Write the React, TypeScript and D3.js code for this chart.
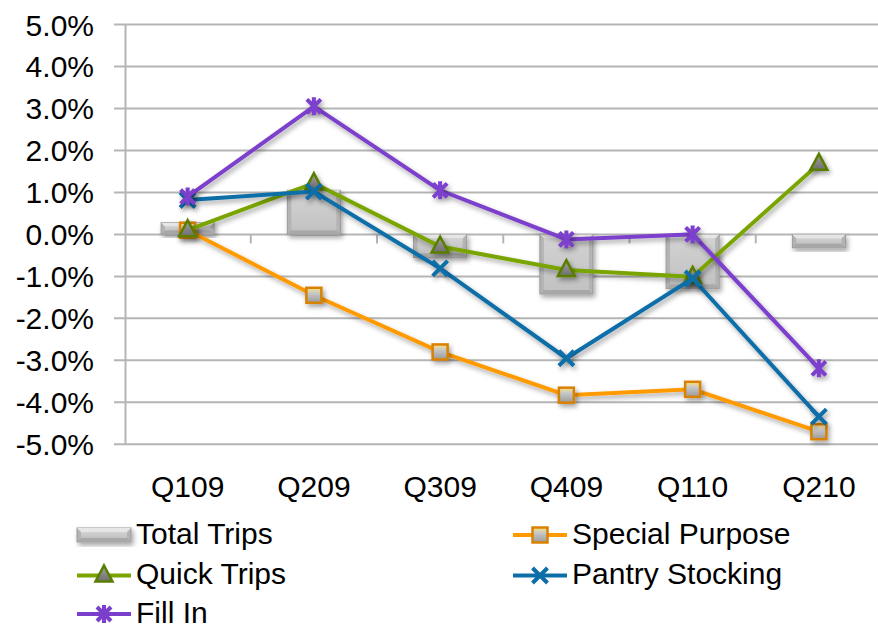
import { useEffect, useRef } from "react";
import * as d3 from "d3";

// Chart data (percent change)
const categories = ["Q109", "Q209", "Q309", "Q409", "Q110", "Q210"];
const totalTrips = [0.28, 1.05, -0.55, -1.42, -1.29, -0.32];
const specialPurpose = [0.1, -1.45, -2.8, -3.83, -3.69, -4.7];
const quickTrips = [0.1, 1.22, -0.29, -0.85, -1.01, 1.68];
const pantryStocking = [0.82, 1.02, -0.81, -2.95, -1.05, -4.34];
const fillIn = [0.9, 3.05, 1.05, -0.12, 0.0, -3.19];
const yTicks = [5, 4, 3, 2, 1, 0, -1, -2, -3, -4, -5];

const WIDTH = 878;
const HEIGHT = 629;
const FONT = "'Liberation Sans', Arial, sans-serif";
const FONT_SIZE = 30;

type Marker = "square" | "triangle" | "cross" | "star";

interface LineSeries {
  name: string;
  values: number[];
  color: string;
  marker: Marker;
}

const lineSeries: LineSeries[] = [
  { name: "Special Purpose", values: specialPurpose, color: "#ff9a00", marker: "square" },
  { name: "Quick Trips", values: quickTrips, color: "#7aa400", marker: "triangle" },
  { name: "Pantry Stocking", values: pantryStocking, color: "#0c6ea8", marker: "cross" },
  { name: "Fill In", values: fillIn, color: "#7b3fcc", marker: "star" },
];

function drawMarker(
  g: d3.Selection<SVGGElement, unknown, null, undefined>,
  type: Marker,
  color: string,
  cx: number,
  cy: number
) {
  const m = g.append("g").attr("transform", `translate(${cx},${cy})`);
  if (type === "square") {
    m.append("rect")
      .attr("x", -7.5).attr("y", -7.5).attr("width", 15).attr("height", 15)
      .attr("fill", "url(#sqFill)")
      .attr("stroke", "#d98100").attr("stroke-width", 2.5);
  } else if (type === "triangle") {
    m.append("path")
      .attr("d", "M0,-10L8.5,6L-8.5,6Z")
      .attr("fill", "url(#triFill)")
      .attr("stroke", "#5a7d00").attr("stroke-width", 2.5)
      .attr("stroke-linejoin", "miter");
  } else if (type === "cross") {
    m.append("path")
      .attr("d", "M-7.5,-7.5L7.5,7.5M-7.5,7.5L7.5,-7.5")
      .attr("stroke", color).attr("stroke-width", 4)
      .attr("fill", "none");
  } else {
    m.append("path")
      .attr("d", "M-7,-7L7,7M-7,7L7,-7M0,-9L0,9")
      .attr("stroke", color).attr("stroke-width", 4)
      .attr("fill", "none");
  }
}

function drawBar(
  g: d3.Selection<SVGGElement, unknown, null, undefined>,
  x: number,
  y: number,
  w: number,
  h: number
) {
  const b = g.append("g").attr("filter", "url(#shadow)");
  b.append("rect")
    .attr("x", x).attr("y", y).attr("width", w).attr("height", h)
    .attr("fill", "#b4b4b4").attr("stroke", "#9a9a9a").attr("stroke-width", 1);
  const inset = Math.min(4, h / 3);
  b.append("rect")
    .attr("x", x + inset).attr("y", y + inset)
    .attr("width", Math.max(0, w - inset * 2))
    .attr("height", Math.max(0, h - inset * 2))
    .attr("fill", "url(#barFace)");
  // bevel highlight / shade
  b.append("path")
    .attr("d", `M${x},${y}L${x + w},${y}L${x + w - inset},${y + inset}L${x + inset},${y + inset}Z`)
    .attr("fill", "#e6e6e6");
  b.append("path")
    .attr("d", `M${x},${y + h}L${x + w},${y + h}L${x + w - inset},${y + h - inset}L${x + inset},${y + h - inset}Z`)
    .attr("fill", "#a8a8a8");
}

export default function App() {
  const svgRef = useRef<SVGSVGElement>(null);

  useEffect(() => {
    if (!svgRef.current) return;
    const svg = d3.select(svgRef.current);
    svg.selectAll("*").remove();

    const defs = svg.append("defs");
    const shadow = defs.append("filter").attr("id", "shadow")
      .attr("x", "-30%").attr("y", "-30%").attr("width", "160%").attr("height", "160%");
    shadow.append("feDropShadow")
      .attr("dx", 2).attr("dy", 3).attr("stdDeviation", 2.5)
      .attr("flood-color", "#000").attr("flood-opacity", 0.35);

    const face = defs.append("linearGradient").attr("id", "barFace")
      .attr("x1", 0).attr("y1", 0).attr("x2", 0).attr("y2", 1);
    face.append("stop").attr("offset", "0%").attr("stop-color", "#d2d2d2");
    face.append("stop").attr("offset", "100%").attr("stop-color", "#c2c2c2");

    const sq = defs.append("linearGradient").attr("id", "sqFill")
      .attr("x1", 0).attr("y1", 0).attr("x2", 0).attr("y2", 1);
    sq.append("stop").attr("offset", "0%").attr("stop-color", "#ffe27a");
    sq.append("stop").attr("offset", "35%").attr("stop-color", "#c8c8c8");
    sq.append("stop").attr("offset", "100%").attr("stop-color", "#9a9a9a");

    const tri = defs.append("linearGradient").attr("id", "triFill")
      .attr("x1", 0).attr("y1", 0).attr("x2", 0).attr("y2", 1);
    tri.append("stop").attr("offset", "0%").attr("stop-color", "#a0a0a0");
    tri.append("stop").attr("offset", "100%").attr("stop-color", "#6f6f6f");

    const x = d3.scaleBand<string>().domain(categories).range([124.5, 882]).padding(0);
    const y = d3.scaleLinear().domain([-5, 5]).range([444.3, 24.5]);
    const cx = (c: string) => (x(c) ?? 0) + x.bandwidth() / 2;

    const g = svg.append("g");

    // Gridlines (extending left as tick marks)
    g.append("g")
      .selectAll("line")
      .data(yTicks)
      .join("line")
      .attr("x1", 114)
      .attr("x2", WIDTH)
      .attr("y1", (d) => y(d))
      .attr("y2", (d) => y(d))
      .attr("stroke", "#b5b5b5")
      .attr("stroke-width", 2);

    // Y axis line
    g.append("line")
      .attr("x1", 125.5).attr("x2", 125.5)
      .attr("y1", y(5)).attr("y2", y(-5))
      .attr("stroke", "#b5b5b5").attr("stroke-width", 2);

    // Y tick labels
    g.append("g")
      .selectAll("text")
      .data(yTicks)
      .join("text")
      .attr("x", 94)
      .attr("y", (d) => y(d) + 11)
      .attr("text-anchor", "end")
      .attr("font-family", FONT)
      .attr("font-size", FONT_SIZE)
      .attr("fill", "#000")
      .text((d) => `${d.toFixed(1)}%`);

    // X category tick marks
    g.append("g")
      .selectAll("line")
      .data(categories.slice(1))
      .join("line")
      .attr("x1", (d) => x(d) ?? 0)
      .attr("x2", (d) => x(d) ?? 0)
      .attr("y1", y(0))
      .attr("y2", y(0) + 9)
      .attr("stroke", "#b5b5b5")
      .attr("stroke-width", 2);

    // Category labels
    g.append("g")
      .selectAll("text")
      .data(categories)
      .join("text")
      .attr("x", (d) => cx(d))
      .attr("y", 497)
      .attr("text-anchor", "middle")
      .attr("font-family", FONT)
      .attr("font-size", FONT_SIZE)
      .attr("fill", "#000")
      .text((d) => d);

    // Total Trips bars
    const barW = x.bandwidth() * 0.42;
    const bars = g.append("g");
    categories.forEach((c, i) => {
      const v = totalTrips[i];
      const top = y(Math.max(0, v));
      const h = Math.abs(y(v) - y(0));
      drawBar(bars, cx(c) - barW / 2, top, barW, h);
    });

    // Lines + markers
    const line = d3
      .line<number>()
      .x((_, i) => cx(categories[i]))
      .y((d) => y(d));

    lineSeries.forEach((s) => {
      const sg = g.append("g");
      sg.append("path")
        .datum(s.values)
        .attr("d", line)
        .attr("fill", "none")
        .attr("stroke", s.color)
        .attr("stroke-width", 4)
        .attr("filter", "url(#shadow)");
      const mg = sg.append("g").attr("filter", "url(#shadow)");
      s.values.forEach((v, i) => drawMarker(mg, s.marker, s.color, cx(categories[i]), y(v)));
    });

    // Legend
    const legend = g.append("g");
    const items = [
      { name: "Total Trips", col: 0, row: 0 },
      { name: "Special Purpose", col: 1, row: 0 },
      { name: "Quick Trips", col: 0, row: 1 },
      { name: "Pantry Stocking", col: 1, row: 1 },
      { name: "Fill In", col: 0, row: 2 },
    ];
    const colX = [77, 513];
    const rowY = [535, 575.5, 614];
    items.forEach((it) => {
      const lx = colX[it.col];
      const ly = rowY[it.row];
      const lg = legend.append("g");
      if (it.name === "Total Trips") {
        drawBar(lg, lx, ly - 7, 54, 14);
      } else {
        const s = lineSeries.find((d) => d.name === it.name)!;
        lg.append("line")
          .attr("x1", lx).attr("x2", lx + 54)
          .attr("y1", ly).attr("y2", ly)
          .attr("stroke", s.color).attr("stroke-width", 4);
        drawMarker(lg, s.marker, s.color, lx + 27, ly);
      }
      legend.append("text")
        .attr("x", lx + 59)
        .attr("y", ly + 8.5)
        .attr("font-family", FONT)
        .attr("font-size", FONT_SIZE)
        .attr("fill", "#000")
        .text(it.name);
    });
  }, []);

  return (
    <svg
      ref={svgRef}
      width={WIDTH}
      height={HEIGHT}
      style={{ position: "absolute", left: 0, top: 0, background: "#fff" }}
    />
  );
}
